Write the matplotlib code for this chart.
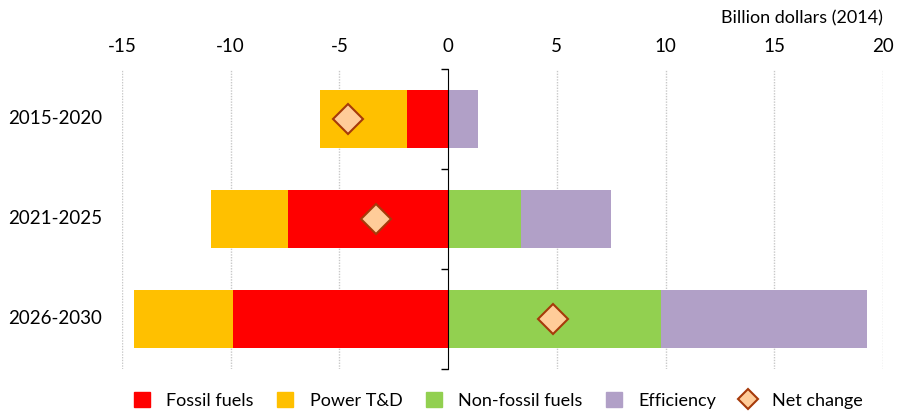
import matplotlib.pyplot as plt
import matplotlib.transforms as mtransforms
import numpy as np
from matplotlib.lines import Line2D
from matplotlib.patches import Patch

plt.rcParams['font.family'] = ['Lato', 'DejaVu Sans']

periods = ['2015-2020', '2021-2025', '2026-2030']
fossil = [-1.9, -7.35, -9.9]
power = [-4.0, -3.55, -4.55]
non_fossil = [0.0, 3.35, 9.8]
efficiency = [1.35, 4.15, 9.45]
net_change = [-4.6, -3.3, 4.8]
xticks = [-15, -10, -5, 0, 5, 10, 15, 20]

c_fossil = '#FF0000'
c_power = '#FFC000'
c_non = '#92D050'
c_eff = '#B1A0C7'

fig = plt.figure(figsize=(8.98, 4.11), dpi=100)
ax = fig.add_axes([0.1359, 0.1022, 0.8474, 0.730])

y = np.arange(len(periods))
h = 0.58
ax.barh(y, fossil, h, color=c_fossil, zorder=2)
ax.barh(y, power, h, left=fossil, color=c_power, zorder=2)
ax.barh(y, non_fossil, h, color=c_non, zorder=2)
ax.barh(y, efficiency, h, left=non_fossil, color=c_eff, zorder=2)
ax.plot(net_change, y, linestyle='none', marker='D', markersize=15,
        markerfacecolor='#FFCC99', markeredgecolor='#A63A0A', markeredgewidth=1.5, zorder=4)

ax.set_xlim(-15, 20)
ax.set_ylim(2.5, -0.5)

# x axis on top
ax.xaxis.tick_top()
ax.set_xticks(xticks, [str(t) for t in xticks], fontsize=13.5)
ax.tick_params(axis='x', length=0, pad=10)
for t in xticks:
    if t != 0:
        ax.axvline(t, color='#C8C8C8', linestyle=(0, (1, 1)), linewidth=1, zorder=1)

# y axis at zero, ticks between categories
for s in ['top', 'right', 'bottom']:
    ax.spines[s].set_visible(False)
ax.spines['left'].set_position(('data', 0))
ax.spines['left'].set_zorder(3)
ax.set_yticks([-0.5, 0.5, 1.5, 2.5], ['', '', '', ''])
ax.tick_params(axis='y', length=5, direction='out', width=1)

trans = mtransforms.blended_transform_factory(ax.transAxes, ax.transData)
for i, p in enumerate(periods):
    ax.text(-0.026, i, p, transform=trans, ha='right', va='center', fontsize=13.5)

fig.text(0.983, 0.955, 'Billion dollars (2014)', ha='right', va='center', fontsize=13)

handles = [
    Patch(color=c_fossil, label='Fossil fuels'),
    Patch(color=c_power, label='Power T&D'),
    Patch(color=c_non, label='Non-fossil fuels'),
    Patch(color=c_eff, label='Efficiency'),
    Line2D([], [], linestyle='none', marker='D', markersize=10,
           markerfacecolor='#FFCC99', markeredgecolor='#A63A0A', markeredgewidth=1.5,
           label='Net change'),
]
fig.legend(handles=handles, loc='center', bbox_to_anchor=(0.555, 0.025), ncol=5,
           frameon=False, fontsize=13, handlelength=0.9, handleheight=0.9,
           columnspacing=1.3, handletextpad=0.9)

plt.savefig('out.png')
